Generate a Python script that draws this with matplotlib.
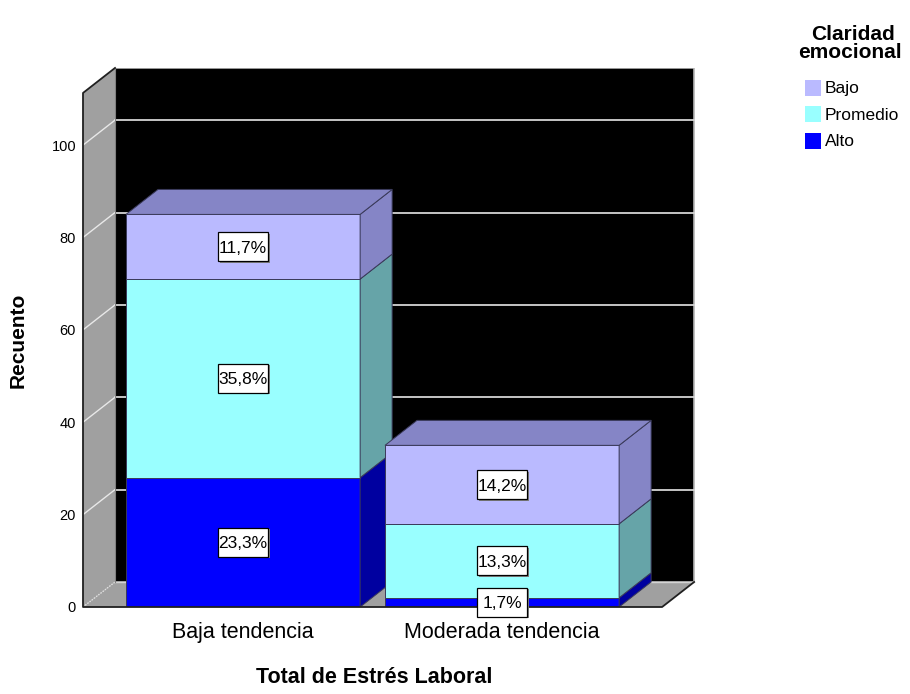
import matplotlib.pyplot as plt
from matplotlib.patches import Polygon, Rectangle
from matplotlib.transforms import ScaledTranslation

plt.rcParams['font.family'] = ['Liberation Sans', 'DejaVu Sans']

categorias = ['Baja tendencia', 'Moderada tendencia']
niveles = ['Alto', 'Promedio', 'Bajo']      # orden de apilado, de abajo arriba
alto = [28, 2]
promedio = [43, 16]
bajo = [14, 17]
y_ticks = [0, 20, 40, 60, 80, 100]

# (cara frontal, cara lateral / superior)
colores = {'Alto': ('#0000ff', '#0000a0'),
           'Promedio': ('#99ffff', '#66a4a8'),
           'Bajo': ('#babaff', '#8585c6')}
conteos = {'Alto': alto, 'Promedio': promedio, 'Bajo': bajo}
total = sum(alto) + sum(promedio) + sum(bajo)

W, H = 910, 694
fig = plt.figure(figsize=(W / 100, H / 100), dpi=100)
ax = fig.add_axes([83 / W, 87 / H, 612 / W, 539 / H])
ax.set_xlim(-0.618, 1.745)
ax.set_ylim(0, 116.7)
ax.set_facecolor('none')
for s in ax.spines.values():
    s.set_visible(False)

# profundidad del efecto 3D (en unidades de datos)
dx, dy = 0.1236, 5.41
x0, x1, techo = -0.618, 1.618, 111.3
gris = '#a0a0a0'

# pared del fondo, pared izquierda y suelo
ax.add_patch(Polygon([(x0 + dx, dy), (x1 + dx, dy), (x1 + dx, techo + dy), (x0 + dx, techo + dy)],
                     closed=True, fc='black', ec='#b4b4b4', lw=1.2, zorder=1))
ax.add_patch(Polygon([(x0, 0), (x0 + dx, dy), (x0 + dx, techo + dy), (x0, techo)],
                     closed=True, fc=gris, ec='none', zorder=1))
ax.add_patch(Polygon([(x0, 0), (x1, 0), (x1 + dx, dy), (x0 + dx, dy)],
                     closed=True, fc=gris, ec='none', zorder=1))
for v in y_ticks[1:]:
    ax.plot([x0 + dx, x1 + dx], [v + dy, v + dy], color='#d4d4d4', lw=1.3, zorder=2)
    ax.plot([x0, x0 + dx], [v, v + dy], color='#e8e8e8', lw=1.0, zorder=2)
ax.plot([x0, x0 + dx], [0, dy], color='#e0e0e0', lw=1.0, ls=(0, (1, 1)), zorder=2)
ax.plot([x0 + dx, x1 + dx], [dy, dy], color='#d4d4d4', lw=1.0, zorder=2)
ax.plot([x0 + dx, x0 + dx], [dy, techo + dy], color='#808080', lw=0.8, zorder=2)

# bordes del marco
ax.plot([x0 + dx, x0, x0, x1, x1 + dx], [techo + dy, techo, 0, 0, dy],
        color='#202020', lw=1.3, zorder=6, clip_on=False)

# barras apiladas con caras frontal, lateral y superior
w = 0.452
borde = '#3a3a5a'
etiquetas = []
for i, cat in enumerate(categorias):
    base = 0
    for nivel in niveles:
        v = conteos[nivel][i]
        frente, lado = colores[nivel]
        ax.add_patch(Rectangle((i - w, base), 2 * w, v, fc=frente, ec=borde, lw=0.7, zorder=3))
        ax.add_patch(Polygon([(i + w, base), (i + w + dx, base + dy), (i + w + dx, base + v + dy),
                              (i + w, base + v)], closed=True, fc=lado, ec=borde, lw=0.7, zorder=3))
        etiquetas.append((i, base + v / 2, v))
        base += v
    ax.add_patch(Polygon([(i - w, base), (i + w, base), (i + w + dx, base + dy), (i - w + dx, base + dy)],
                         closed=True, fc=colores['Bajo'][1], ec=borde, lw=0.7, zorder=3))

# etiquetas de porcentaje en recuadro blanco (tamaño del recuadro en pulgadas)
bw, bh = 0.50, 0.29
for x, y, v in etiquetas:
    txt = f'{100 * v / total:.1f}%'.replace('.', ',')
    ancla = fig.dpi_scale_trans + ScaledTranslation(x, y, ax.transData)
    ax.add_patch(Rectangle((-bw / 2 + 0.015, -bh / 2 - 0.015), bw, bh, transform=ancla,
                           fc='#808080', ec='none', zorder=7, clip_on=False))
    ax.add_patch(Rectangle((-bw / 2, -bh / 2), bw, bh, transform=ancla,
                           fc='white', ec='black', lw=0.9, zorder=7, clip_on=False))
    ax.text(x, y, txt, ha='center', va='center_baseline', fontsize=12.5, zorder=8)

ax.set_yticks(y_ticks)
ax.set_xticks([0, 1], categorias)
ax.tick_params(axis='y', length=0, pad=5, labelsize=10.5)
ax.tick_params(axis='x', length=0, pad=11, labelsize=15.5)

fig.text(18 / W, 1 - 340 / H, 'Recuento', rotation=90, ha='center', va='center',
         fontsize=15, fontweight='bold')
fig.text(374 / W, 1 - 683 / H, 'Total de Estrés Laboral', ha='center', va='baseline',
         fontsize=15.5, fontweight='bold')

# leyenda
fig.text(853 / W, 1 - 40 / H, 'Claridad', ha='center', va='baseline', fontsize=15, fontweight='bold')
fig.text(850 / W, 1 - 58 / H, 'emocional', ha='center', va='baseline', fontsize=15, fontweight='bold')
for k, nivel in enumerate(['Bajo', 'Promedio', 'Alto']):
    yc = 87.5 + 26.5 * k
    fig.patches.append(Rectangle((805 / W, 1 - (yc + 8) / H), 16 / W, 16 / H,
                                 transform=fig.transFigure, fc=colores[nivel][0], ec='none'))
    fig.text(825 / W, 1 - (yc + 6) / H, nivel, ha='left', va='baseline', fontsize=12.5)

fig.savefig('out.png', dpi=100)
